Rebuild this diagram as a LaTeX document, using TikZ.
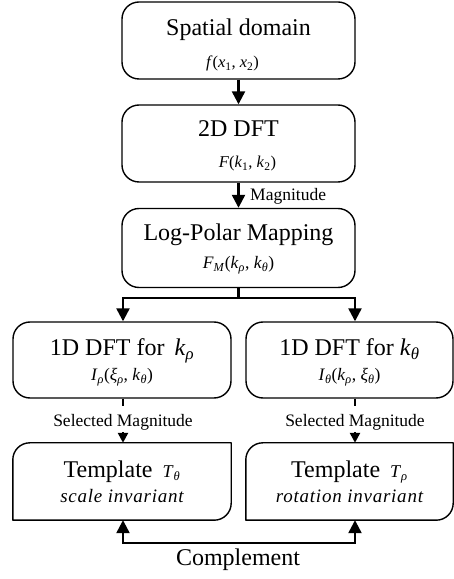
\documentclass[tikz,border=0pt]{standalone}
\usepackage{fontspec}
\setmainfont{Liberation Serif}
\usetikzlibrary{arrows.meta}

\newcommand{\mainsz}{\fontsize{24}{28}\selectfont}
\newcommand{\subsz}{\fontsize{16.5}{19}\selectfont}
\newcommand{\subbsz}{\fontsize{17.5}{20}\selectfont}
\newcommand{\lblsz}{\fontsize{17.5}{20}\selectfont}
\newcommand{\itsz}{\fontsize{19}{22}\selectfont\itshape\addfontfeatures{LetterSpace=4}}
\newcommand{\vi}[1]{\textit{#1}}
\newcommand{\sub}[1]{\textsubscript{\textit{#1}}}

% template frame: rounded top-left and bottom-right corners only
\newcommand{\tmplframe}[1]{%
  \draw[frame] (#1.south west) -- ([yshift=-17pt]#1.north west)
    arc[start angle=180, end angle=90, radius=17pt] -- (#1.north east)
    -- ([yshift=17pt]#1.south east)
    arc[start angle=0, end angle=-90, radius=17pt] -- cycle;}

\begin{document}
\begin{tikzpicture}[x=1pt, y=1pt,
  frame/.style={line width=1.4pt, line join=round},
  box/.style={frame, draw, rounded corners=17pt, inner sep=0pt, minimum height=77pt},
  wide/.style={minimum width=233pt},
  lbox/.style={minimum width=218pt},
  rbox/.style={minimum width=207pt},
  tmpl/.style={inner sep=0pt, minimum height=77pt},
  maintext/.style={anchor=base, inner sep=0pt, font=\mainsz},
  subtext/.style={anchor=base, inner sep=0pt, font=\subsz},
  subbtext/.style={anchor=base, inner sep=0pt, font=\subbsz},
  lbl/.style={anchor=base, inner sep=0pt, font=\lblsz},
  wire/.style={line width=2.4pt},
  conn/.style={wire, -{Triangle[length=13pt, width=13pt]}},
  sconn/.style={wire, -{Triangle[length=10pt, width=10pt]}},
]
\useasboundingbox (0,0) rectangle (454,579);

% boxes
\node[box, wide] (sd)  at (238.5,538.5) {};
\node[box, wide] (dft) at (238.5,435.5) {};
\node[box, wide, minimum height=79pt] (lp) at (238.5,331) {};
\node[box, lbox, minimum height=76pt] (d1) at (122,219) {};
\node[box, rbox, minimum height=76pt] (d2) at (349.5,219) {};
\node[tmpl, lbox] (t1) at (122,97.5) {};
\node[tmpl, rbox] (t2) at (349.5,97.5) {};
\tmplframe{t1}
\tmplframe{t2}

% box texts
\node[maintext] (sd-m) at ([yshift=4.5pt]sd.center) {Spatial domain};
\node[subtext]  (sd-s) at ([xshift=-6pt, yshift=-27pt]sd.center) {\vi{f}(\vi{x}\textsubscript{1}, \vi{x}\textsubscript{2})};

\node[maintext] (dft-m) at ([yshift=7pt]dft.center) {2D DFT};
\node[subtext]  (dft-s) at ([xshift=9pt, yshift=-24pt]dft.center) {\vi{F}(\vi{k}\textsubscript{1}, \vi{k}\textsubscript{2})};

\node[maintext] (lp-m) at ([yshift=7pt]lp.center) {Log-Polar Mapping};
\node[subbtext] (lp-s) at ([yshift=-21pt]lp.center) {\vi{F}\sub{M}(\vi{k}\sub{ρ}, \vi{k}\sub{θ})};

\node[maintext] (d1-m) at ([yshift=4pt]d1.center) {1D DFT for \,\vi{k}\sub{ρ}};
\node[subbtext] (d1-s) at ([yshift=-21pt]d1.center) {\vi{I}\sub{ρ}(\vi{ξ}\sub{ρ}, \vi{k}\sub{θ})};

\node[maintext] (d2-m) at ([yshift=4pt]d2.center) {1D DFT for \vi{k}\sub{θ}};
\node[subbtext] (d2-s) at ([yshift=-21pt]d2.center) {\vi{I}\sub{θ}(\vi{k}\sub{ρ}, \vi{ξ}\sub{θ})};

\node[maintext] (t1-m) at ([yshift=3.5pt]t1.center) {Template \,{\fontsize{18}{20}\selectfont\vi{T}\sub{θ}}};
\node[subtext]  (t1-s) at ([yshift=-21.5pt]t1.center) {\itsz scale invariant};

\node[maintext] (t2-m) at ([yshift=3.5pt]t2.center) {Template \,{\fontsize{18}{20}\selectfont\vi{T}\sub{ρ}}};
\node[subtext]  (t2-s) at ([yshift=-21.5pt]t2.center) {\itsz rotation invariant};

% connectors
\draw[conn] (sd.south) -- (dft.north);
\draw[conn] (dft.south) -- (lp.north);
\node[lbl, anchor=base west] (mag) at (250,378) {Magnitude};

\coordinate (split) at (238.5,281);
\draw[wire] (lp.south) -- (split);
\draw[conn] (split) -| ([xshift=1pt]d1.north);
\draw[conn] (split) -| ([xshift=5.5pt]d2.north);

\node[lbl] (sm1) at (123,152) {Selected Magnitude};
\node[lbl] (sm2) at (355,152) {Selected Magnitude};
\draw[wire] ([xshift=1pt]d1.south) -- ([yshift=9pt]sm1.north);
\draw[wire] ([xshift=5.5pt]d2.south) -- ([yshift=9pt]sm2.north);
\draw[sconn] ([yshift=-1.5pt]sm1.south) -- ([xshift=1pt]t1.north);
\draw[sconn] ([yshift=-1.5pt]sm2.south) -- ([xshift=5.5pt]t2.north);

\coordinate (cl) at ([xshift=1pt, yshift=-23pt]t1.south);
\draw[wire, {Triangle[length=13pt, width=13pt]}-{Triangle[length=13pt, width=13pt]}]
  ([xshift=1pt]t1.south) -- (cl) -| ([xshift=5.5pt]t2.south);
\node[maintext] (comp) at (238,13) {Complement};
\end{tikzpicture}
\end{document}
